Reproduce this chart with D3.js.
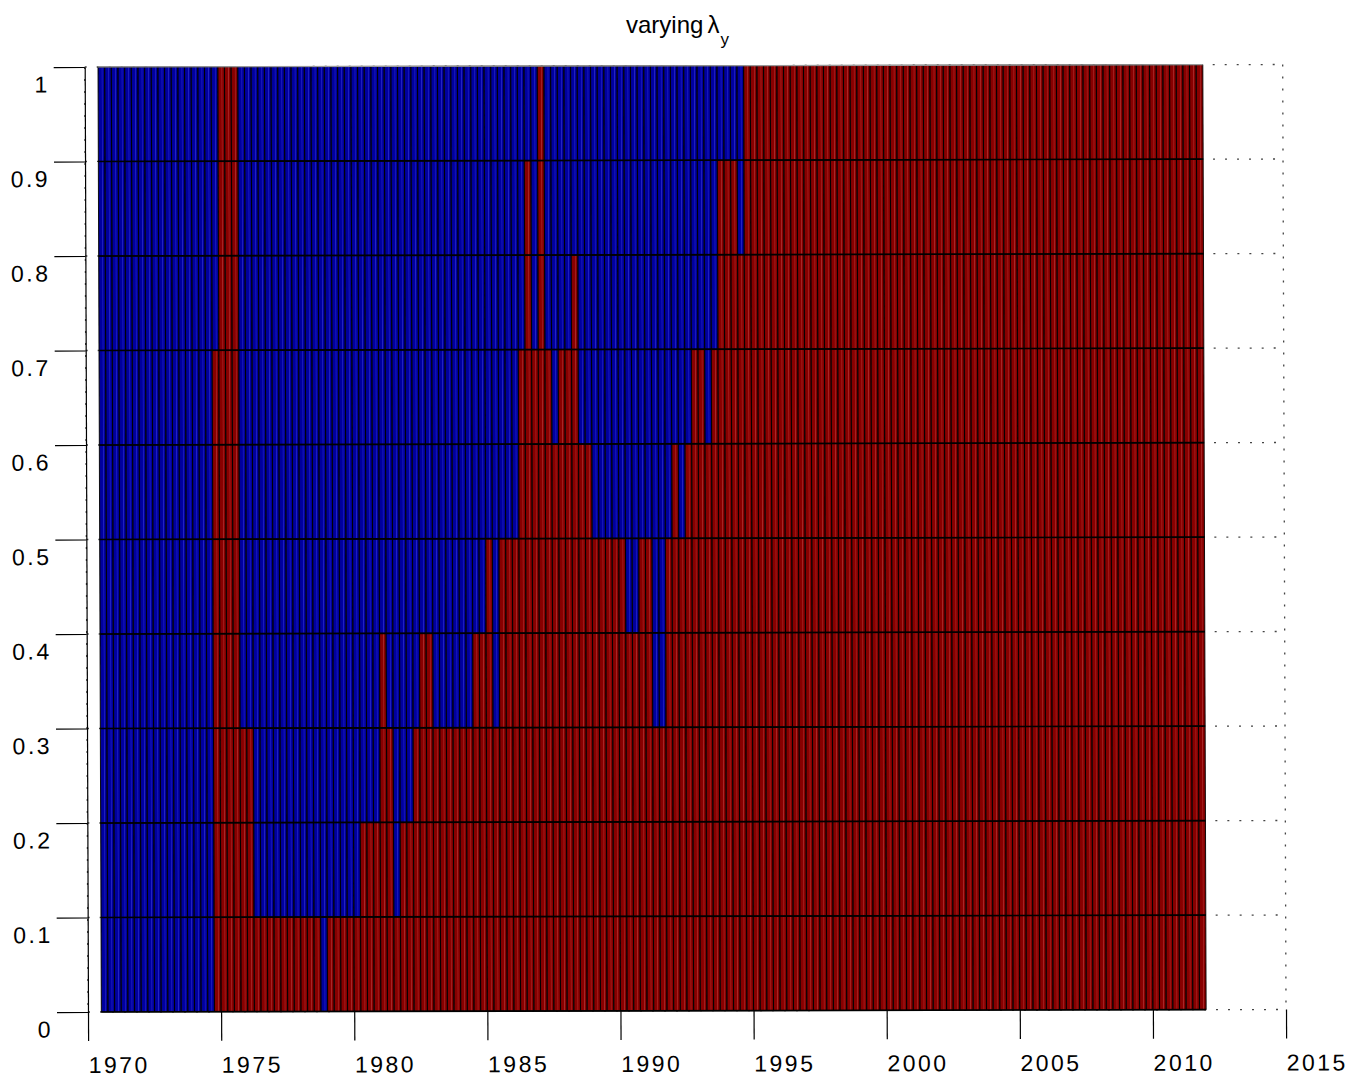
<!DOCTYPE html>
<html>
<head>
<meta charset="utf-8">
<script src="https://cdn.jsdelivr.net/npm/d3@7"></script>
<style>
  body { margin: 0; background: #fff; }
  svg { display: block; font-family: "Liberation Sans", Arial, sans-serif; }
</style>
</head>
<body>
<svg id="chart"></svg>
<script>
// Axis ticks
const yearTicks = [1970, 1975, 1980, 1985, 1990, 1995, 2000, 2005, 2010, 2015];
const levelTicks = [0, 0.1, 0.2, 0.3, 0.4, 0.5, 0.6, 0.7, 0.8, 0.9, 1];
const levelLabels = ["0", "0.1", "0.2", "0.3", "0.4", "0.5", "0.6", "0.7", "0.8", "0.9", "1"];

// Quarterly sample
const firstQuarter = 1970.5;
const lastQuarter = 2011.75;

// Periods in the blue regime, [from, to) in years, one list per band (bottom to top)
// everything else in the sample is red
const blueBand0 = [[1970.5, 1974.75], [1978.75, 1979.0]];
const blueBand1 = [[1970.5, 1974.75], [1976.25, 1980.25], [1981.5, 1981.75]];
const blueBand2 = [[1970.5, 1974.75], [1976.25, 1981.0], [1981.5, 1982.25]];
const blueBand3 = [[1970.5, 1974.75], [1975.75, 1981.0], [1981.25, 1982.5], [1983.0, 1984.5],
                   [1985.25, 1985.5], [1991.25, 1991.75]];
const blueBand4 = [[1970.5, 1974.75], [1975.75, 1985.0], [1985.25, 1985.5], [1990.25, 1990.75],
                   [1991.25, 1991.75]];
const blueBand5 = [[1970.5, 1974.75], [1975.75, 1986.25], [1989.0, 1992.0], [1992.25, 1992.5]];
const blueBand6 = [[1970.5, 1974.75], [1975.75, 1986.25], [1987.5, 1987.75], [1988.5, 1992.75],
                   [1993.25, 1993.5]];
const blueBand7 = [[1970.5, 1975.0], [1975.75, 1986.5], [1986.75, 1987.0], [1987.25, 1988.25],
                   [1988.5, 1993.75]];
const blueBand8 = [[1970.5, 1975.0], [1975.75, 1986.5], [1986.75, 1987.0], [1987.25, 1993.75],
                   [1994.5, 1994.75]];
const blueBand9 = [[1970.5, 1975.0], [1975.75, 1987.0], [1987.25, 1994.75]];
const blueSpans = [blueBand0, blueBand1, blueBand2, blueBand3, blueBand4,
                   blueBand5, blueBand6, blueBand7, blueBand8, blueBand9];

const quarters = d3.range(firstQuarter, lastQuarter + 0.01, 0.25);

const svg = d3.select("#chart")
  .attr("width", 1370)
  .attr("height", 1083);

const x = d3.scaleLinear().domain([1970, 2015]).range([88, 1286]);
const y = d3.scaleLinear().domain([0, 1]).range([1012, 67]);

// Cell shading, dark edge + faint light streak like the 3d bars
const defs = svg.append("defs");
const shading = {
  blue: ["#00004a", "#00009a", "#0000a2", "#2424c2", "#0000a2", "#00008a"],
  red: ["#420000", "#860000", "#8a0000", "#a82828", "#8a0000", "#780000"]
};
const offsets = ["0%", "16%", "50%", "60%", "72%", "100%"];
Object.keys(shading).forEach(key => {
  const g = defs.append("linearGradient")
    .attr("id", "grad-" + key)
    .attr("x1", 0).attr("x2", 1).attr("y1", 0).attr("y2", 0);
  shading[key].forEach((c, i) => {
    g.append("stop").attr("offset", offsets[i]).attr("stop-color", c);
  });
});

// slightly tilted view (3d plot seen almost from above)
const plot = svg.append("g")
  .attr("transform", "matrix(1,-0.0021,0.0035,1,-3.54,0.185)");

// Dotted grid
const grid = plot.append("g")
  .attr("stroke", "#444")
  .attr("stroke-width", 1.3)
  .attr("stroke-dasharray", "2,10");
grid.selectAll(".hgrid")
  .data(levelTicks)
  .enter()
  .append("line")
  .attr("x1", x(1970)).attr("x2", x(2015))
  .attr("y1", d => y(d)).attr("y2", d => y(d));
grid.selectAll(".vgrid")
  .data(yearTicks)
  .enter()
  .append("line")
  .attr("x1", d => x(d)).attr("x2", d => x(d))
  .attr("y1", y(1)).attr("y2", y(0));

// Cells
const cells = [];
blueSpans.forEach((spans, b) => {
  quarters.forEach(t => {
    cells.push({
      t: t,
      lo: levelTicks[b],
      hi: levelTicks[b + 1],
      blue: spans.some(s => t >= s[0] - 1e-9 && t < s[1] - 1e-9)
    });
  });
});

plot.append("g")
  .selectAll("rect")
  .data(cells)
  .enter()
  .append("rect")
  .attr("x", d => x(d.t))
  .attr("width", d => x(d.t + 0.25) - x(d.t))
  .attr("y", d => y(d.hi))
  .attr("height", d => y(d.lo) - y(d.hi))
  .attr("fill", d => d.blue ? "url(#grad-blue)" : "url(#grad-red)")
  .attr("stroke", "#000")
  .attr("stroke-width", 0.9);

// band edges
plot.append("g")
  .selectAll("line")
  .data(levelTicks)
  .enter()
  .append("line")
  .attr("x1", x(firstQuarter))
  .attr("x2", x(lastQuarter + 0.25))
  .attr("y1", d => y(d))
  .attr("y2", d => y(d))
  .attr("stroke", d => d === 1 ? "#999" : "#000")
  .attr("stroke-width", d => d === 1 ? 1.2 : 1.6);

// Axes
const yAxis = d3.axisLeft(y)
  .tickValues(levelTicks)
  .tickFormat((d, i) => levelLabels[i])
  .tickSize(31)
  .tickSizeOuter(0)
  .tickPadding(4);
const gy = plot.append("g")
  .attr("transform", `translate(${x(1970)},0)`)
  .call(yAxis);
gy.select(".domain").attr("stroke", "#000").attr("stroke-width", 1.2);
gy.selectAll(".tick line").attr("stroke", "#000").attr("stroke-width", 1.2);
gy.selectAll(".tick text")
  .attr("dy", null)
  .attr("y", 25)
  .attr("fill", "#000")
  .style("font-size", "23px")
  .style("letter-spacing", "2.5px")
  .style("font-family", "Liberation Sans, Arial, sans-serif");

const xAxis = d3.axisBottom(x)
  .tickValues(yearTicks)
  .tickFormat(d3.format("d"))
  .tickSize(29)
  .tickSizeOuter(0);
const gx = plot.append("g")
  .attr("transform", `translate(0,${y(0)})`)
  .call(xAxis);
gx.select(".domain").remove();
gx.selectAll(".tick line").attr("stroke", "#000").attr("stroke-width", 1.2);
gx.selectAll(".tick text")
  .attr("dy", null)
  .attr("y", 61)
  .attr("x", 0)
  .attr("text-anchor", "start")
  .attr("fill", "#000")
  .style("font-size", "23px")
  .style("letter-spacing", "2.5px")
  .style("font-family", "Liberation Sans, Arial, sans-serif");

// Title
const title = svg.append("text")
  .attr("x", 626)
  .attr("y", 33)
  .attr("fill", "#000")
  .style("font-size", "24px");
title.append("tspan").text("varying");
title.append("tspan").attr("dx", 4).text("λ");
title.append("tspan").attr("dx", 1).attr("dy", 12).style("font-size", "17px").text("y");
</script>
</body>
</html>
